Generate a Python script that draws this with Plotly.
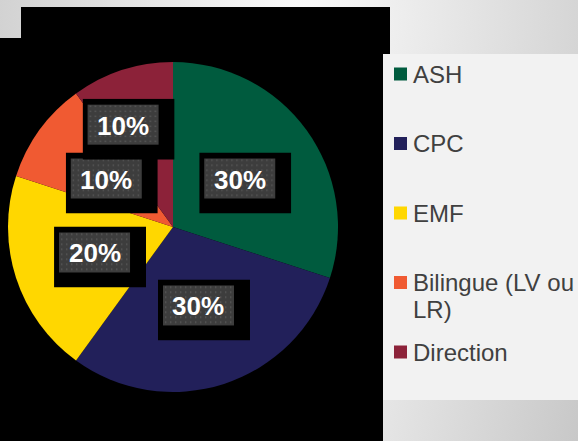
import base64
import math
import textwrap
import plotly.graph_objects as go

# data
labels = ["ASH", "CPC", "EMF", "Bilingue (LV ou LR)", "Direction"]
values = [30, 30, 20, 10, 10]
colors = ["#005b3e", "#22205a", "#ffd700", "#f05a32", "#8c2239"]

W, H = 578, 441
CX, CY, R = 173, 227, 165   # pie centre / radius in pixels


def px(x):
    return x / W


def py(y):
    return 1 - y / H


def svg_uri(svg):
    return "data:image/svg+xml;base64," + base64.b64encode(svg.encode()).decode()


fig = go.Figure(go.Pie(
    labels=labels,
    values=values,
    marker=dict(colors=colors, line=dict(width=0)),
    sort=False,
    direction="clockwise",
    rotation=0,
    textinfo="none",
    hoverinfo="label+percent",
    showlegend=False,
    domain=dict(x=[px(CX - R), px(CX + R)], y=[py(CY + R), py(CY - R)]),
))

# slide-like background
bg = f"""<svg xmlns="http://www.w3.org/2000/svg" width="{W}" height="{H}" viewBox="0 0 {W} {H}" preserveAspectRatio="none">
<defs>
<radialGradient id="g" cx="300" cy="20" r="340" gradientUnits="userSpaceOnUse">
<stop offset="0" stop-color="#fbfbfb"/><stop offset="1" stop-color="#cdcdcd"/></radialGradient>
<linearGradient id="b" x1="383" y1="400" x2="578" y2="441" gradientUnits="userSpaceOnUse">
<stop offset="0" stop-color="#e6e6e6"/><stop offset="1" stop-color="#c8c8c8"/></linearGradient>
</defs>
<rect width="{W}" height="{H}" fill="url(#g)"/>
<rect x="383" y="400" width="195" height="41" fill="url(#b)"/>
</svg>"""

images = [dict(source=svg_uri(bg), xref="paper", yref="paper", x=0, y=1,
               sizex=1, sizey=1, sizing="stretch", xanchor="left", yanchor="top",
               layer="below")]

shapes = [
    dict(type="rect", xref="paper", yref="paper", x0=px(0), x1=px(383), y0=py(441), y1=py(38),
         fillcolor="#000000", line_width=0, layer="below"),
    dict(type="rect", xref="paper", yref="paper", x0=px(21), x1=px(390), y0=py(54), y1=py(7),
         fillcolor="#000000", line_width=0, layer="below"),
    dict(type="rect", xref="paper", yref="paper", x0=px(383), x1=px(578), y0=py(400), y1=py(54),
         fillcolor="#f2f2f2", line_width=0, layer="below"),
]

annotations = []

# data label boxes (black shadow box + dotted grey box)
box = """<svg xmlns="http://www.w3.org/2000/svg" width="92" height="61" viewBox="0 0 92 61" preserveAspectRatio="none">
<defs><pattern id="p" x="0" y="0" width="5" height="5" patternUnits="userSpaceOnUse">
<rect width="5" height="5" fill="#3d3d3d"/><rect x="2" y="2" width="1.4" height="1.4" fill="#5a5a5a"/></pattern></defs>
<rect width="92" height="61" fill="#000"/>
<rect x="5" y="6" width="71" height="40" fill="url(#p)"/>
</svg>"""
box_uri = svg_uri(box)

label_r = [0.5, 0.5, 0.5, 0.5, 0.69]
label_shift = [0, 0, 0, 0, -8]

total = sum(values)
cum = 0
for i, v in enumerate(values):
    mid = (cum + v / 2) / total * 360 + label_shift[i]
    cum += v
    r = R * label_r[i]
    cx = CX + r * math.sin(math.radians(mid))
    cy = CY - r * math.cos(math.radians(mid))
    images.append(dict(source=box_uri, xref="paper", yref="paper",
                       x=px(cx - 40.5), y=py(cy - 26), sizex=92 / W, sizey=61 / H,
                       sizing="stretch", xanchor="left", yanchor="top", layer="above"))
    annotations.append(dict(
        x=px(cx), y=py(cy + 1), xref="paper", yref="paper", showarrow=False,
        text=f"<b>{round(v / total * 100)}%</b>",
        font=dict(family="Liberation Sans, Arial", size=26, color="#ffffff"),
        xanchor="center", yanchor="middle",
    ))

# legend drawn by hand (wide spacing like the original)
for i, (lab, col) in enumerate(zip(labels, colors)):
    yc = 74 + i * 69.5
    shapes.append(dict(type="rect", xref="paper", yref="paper",
                       x0=px(394), x1=px(407), y0=py(yc + 6.5), y1=py(yc - 6.5),
                       fillcolor=col, line_width=0, layer="above"))
    for j, line in enumerate(textwrap.wrap(lab, 15)):
        annotations.append(dict(
            x=px(411), y=py(yc + j * 27), xref="paper", yref="paper", showarrow=False,
            text=line, xanchor="left", yanchor="middle",
            font=dict(family="Liberation Sans, Arial", size=24, color="#404040"),
        ))

fig.update_layout(
    width=W, height=H,
    margin=dict(l=0, r=0, t=0, b=0),
    paper_bgcolor="#e2e2e2",
    plot_bgcolor="rgba(0,0,0,0)",
    images=images,
    shapes=shapes,
    annotations=annotations,
)

fig.write_html("out.html", config={"displayModeBar": False},
               post_script="document.body.style.margin='0';")
